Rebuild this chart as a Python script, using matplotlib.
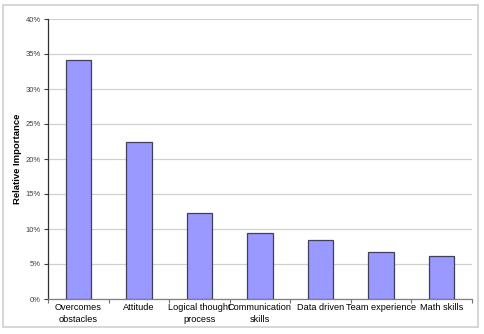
import matplotlib
matplotlib.use("Agg")
import matplotlib.pyplot as plt
from matplotlib.patches import Rectangle
from matplotlib.ticker import FuncFormatter

categories = ["Overcomes\nobstacles", "Attitude", "Logical thought\nprocess",
              "Communication\nskills", "Data driven", "Team experience", "Math skills"]
importance = [34.2, 22.4, 12.3, 9.4, 8.5, 6.7, 6.2]
y_ticks = [0, 5, 10, 15, 20, 25, 30, 35, 40]

plt.rcParams['font.family'] = ['Liberation Sans', 'DejaVu Sans']

W, H = 485, 334
fig = plt.figure(figsize=(W / 100, H / 100), dpi=100)
fig.patch.set_facecolor("white")

# outer chart frame
fig.patches.append(Rectangle((3 / W, 1 - 327 / H), 475 / W, 322 / H,
                             transform=fig.transFigure, fill=False,
                             edgecolor="#cfcfcf", linewidth=1.2))

ax = fig.add_axes([48 / W, 1 - 299 / H, 424 / W, 280 / H])
x = list(range(len(categories)))
ax.bar(x, importance, width=0.42, color="#9999ff", edgecolor="#40405a",
       linewidth=0.9, zorder=3)

ax.set_xlim(-0.5, len(categories) - 0.5)
ax.set_ylim(0, 40)
ax.set_yticks(y_ticks)
ax.yaxis.set_major_formatter(FuncFormatter(lambda v, p: f"{v:.0f}%"))
ax.grid(axis="y", color="#d0d0d0", linewidth=0.9, zorder=0)

ax.set_xticks(x)
ax.set_xticklabels(categories, fontsize=6.6, linespacing=1.35)
ax.set_xticks([i - 0.5 for i in range(len(categories) + 1)], minor=True)
ax.tick_params(axis="x", which="major", length=0, pad=3)
ax.tick_params(axis="x", which="minor", length=3, color="#707070", width=0.8)
ax.tick_params(axis="y", labelsize=5.5, labelcolor="#404040", length=3,
               color="#404040", width=0.8, pad=2)

for side in ("top", "right"):
    ax.spines[side].set_visible(False)
ax.spines["left"].set_color("#303030")
ax.spines["left"].set_linewidth(0.9)
ax.spines["bottom"].set_color("#808080")
ax.spines["bottom"].set_linewidth(0.9)

ax.set_ylabel("Relative Importance", fontsize=6.8, fontweight="bold")
ax.yaxis.set_label_coords(-26 / 424, 0.5)

fig.savefig("out.png", dpi=100, facecolor="white")
